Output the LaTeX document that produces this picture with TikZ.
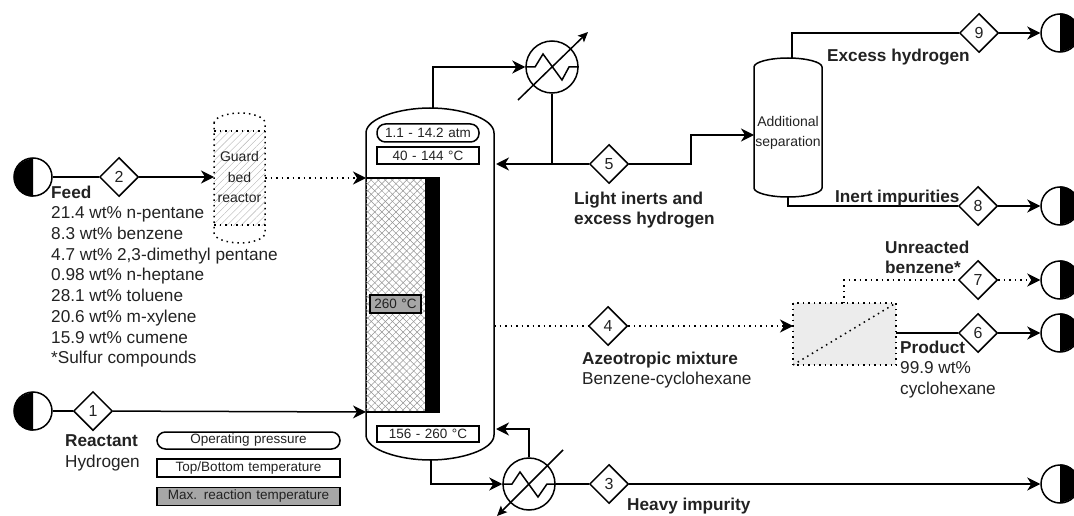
\documentclass[tikz,border=0pt]{standalone}
\usepackage{fontspec}
\setmainfont{Liberation Sans}
\usetikzlibrary{arrows.meta,patterns.meta,shapes.geometric}
\definecolor{inkgray}{HTML}{222222}
\tikzset{
	stream/.style={line width=1.5pt,draw=black},
	arrowed/.style={-{Stealth[length=13pt,width=13pt,inset=4pt]}},
	dottedflow/.style={line width=1.5pt,dash pattern=on 1.5pt off 4pt},
	numbox/.style={diamond,draw,line width=1.5pt,minimum width=39pt,minimum height=39pt,inner sep=0pt,font=\fontsize{16}{18}\selectfont,text=inkgray},
	endpoint/.style={circle,draw,line width=1.5pt,minimum size=38pt,inner sep=0pt},
	lbl/.style={anchor=north west,inner sep=0pt,align=left,text=inkgray,font=\fontsize{17.2}{20.7}\selectfont},
	tag/.style={draw,line width=1.5pt,inner sep=0pt,text=inkgray,font=\fontsize{13.5}{15}\selectfont,text width=#1,align=center},
	small/.style={inner sep=0pt,align=center,text=inkgray,font=\fontsize{14}{20.7}\selectfont}
}
\begin{document}
\begin{tikzpicture}[x=1pt,y=-1pt]
	\useasboundingbox (0,0) rectangle (1074,516);
	\clip (0,0) rectangle (1074,516);
	% diamonds
	\foreach \n/\x/\y in {1/93/411,2/119/177,3/609/484,4/608/326,5/609/164,6/978/333,7/978/280,8/978/206,9/979/33} {
		\node[numbox] (d\n) at (\x,\y) {\n};
	}
	% feeds, black on the left
	\foreach \n/\y in {1/411,2/177} {
		\node[endpoint] (in\n) at (33,\y) {};
		\fill (in\n.south) arc[start angle=270,end angle=90,radius=19pt] -- cycle;
	}
	% products, black on the right
	\foreach \n/\y in {3/484,6/333,7/280,8/206,9/33} {
		\node[endpoint] (out\n) at (1060,\y) {};
		\fill (out\n.north) arc[start angle=90,end angle=-90,radius=19pt] -- cycle;
	}
	% guard bed
	\fill[pattern={Lines[angle=45,distance=5pt,line width=.4pt]},pattern color=gray!60] (214,131) rectangle (265,225);
	\draw[dottedflow] (214,123) .. controls (214,117) and (228,113) .. (240,113) .. controls (252,113) and (265,117) .. (265,123) -- (265,233) .. controls (265,239) and (252,243) .. (240,243) .. controls (228,243) and (214,239) .. (214,233) -- cycle;
	\draw[dottedflow] (214,131) -- (265,131);
	\draw[dottedflow] (214,225) -- (265,225);
	\node[small] (guard) at (239.5,177) {Guard\\bed\\reactor};
	\coordinate (guardin) at (214,177);
	\coordinate (guardout) at (265,178);
	% main column
	\draw[stream] (366,133) .. controls (366,118) and (400,108) .. (430,108) .. controls (460,108) and (494,118) .. (494,133) -- (494,435) .. controls (494,450) and (460,460) .. (430,460) .. controls (400,460) and (366,450) .. (366,435) -- cycle;
	\fill[pattern={Lines[angle=45,distance=5pt,line width=.5pt]},pattern color=gray!85] (366,178) rectangle (425,412);
	\fill[pattern={Lines[angle=-45,distance=5pt,line width=.5pt]},pattern color=gray!85] (366,178) rectangle (425,412);
	\fill (425,178) rectangle (440,412);
	\draw[stream] (366,178) -- (440,178);
	\draw[stream] (366,412) -- (440,412);
	\node[tag=102pt,rounded corners=8.5pt,minimum height=18pt] (ptop) at (428,133) {1.1 - 14.2 atm};
	\node[tag=102pt,minimum height=17pt] (ttop) at (428,155.5) {40 - 144 °C};
	\node[tag=102pt,minimum height=16pt] (tbot) at (428,434) {156 - 260 °C};
	\node[tag=51pt,minimum height=18pt,fill=gray!70] (tmax) at (395.5,304) {260 °C};
	\coordinate (coltop) at (433,108);
	\coordinate (colbot) at (431,460);
	\coordinate (colin2) at (366,178);
	\coordinate (colin1) at (366,412);
	\coordinate (colret) at (496,164);
	\coordinate (colreb) at (496,429);
	\coordinate (colside) at (494,326);
	% condenser
	\node[circle,draw,line width=1.5pt,minimum size=52pt,inner sep=0pt] (cond) at (552,67) {};
	\draw[stream] (cond.west) -- (535,67) -- (543,54) -- (562,80) -- (569,67) -- (cond.east);
	\draw[line width=1.5pt,-{Stealth[length=10pt,width=9pt,inset=2pt]}] (518,100) -- (588,32);
	% reboiler
	\node[circle,draw,line width=1.5pt,minimum size=52pt,inner sep=0pt] (reb) at (529,484) {};
	\draw[stream] (reb.west) -- (512,484) -- (520,472) -- (538,497) -- (547,484) -- (reb.east);
	\draw[line width=1.5pt,-{Stealth[length=10pt,width=9pt,inset=2pt]}] (563,450) -- (497,516);
	% additional separation
	\draw[stream] (754,67) .. controls (754,62) and (770,58) .. (788,58) .. controls (806,58) and (822,62) .. (822,67) -- (822,188) .. controls (822,193) and (806,197) .. (788,197) .. controls (770,197) and (754,193) .. (754,188) -- cycle;
	\node[small] (sep) at (788,133) {Additional\\separation};
	\coordinate (septop) at (792,58);
	\coordinate (sepbot) at (788,197);
	\coordinate (sepin) at (754,135);
	% membrane
	\fill[gray!15] (793,303) rectangle (896,365);
	\draw[dottedflow] (793,303) rectangle (896,365);
	\draw[dottedflow] (793,365) -- (896,303);
	\coordinate (memin) at (793,326);
	\coordinate (memtop) at (844,303);
	\coordinate (memout) at (896,333);
	% streams
	\draw[stream] (in1) -- (d1);
	\draw[stream,arrowed] (d1) -- (colin1);
	\draw[stream] (in2) -- (d2);
	\draw[stream,arrowed] (d2) -- (guardin);
	\draw[dottedflow,arrowed] (guardout) -- (colin2);
	\draw[stream,arrowed] (coltop) |- (cond.west);
	\draw[stream] (cond.south) -- (552,164);
	\draw[stream,arrowed] (d5) -- (colret);
	\draw[stream,arrowed] (colbot) |- (reb.west);
	\draw[stream,arrowed] (reb.north) |- (colreb);
	\draw[stream] (reb.east) -- (d3);
	\draw[stream,arrowed] (d3) -- (out3);
	\draw[stream,arrowed] (d5) -- (691,164) -- (691,135) -- (sepin);
	\draw[stream] (septop) |- (d9);
	\draw[stream,arrowed] (d9) -- (out9);
	\draw[stream] (sepbot) |- (d8);
	\draw[stream,arrowed] (d8) -- (out8);
	\draw[dottedflow] (colside) -- (d4);
	\draw[dottedflow,arrowed] (d4) -- (memin);
	\draw[dottedflow] (memtop) |- (d7);
	\draw[dottedflow,arrowed] (d7) -- (out7);
	\draw[stream] (memout) -- (d6);
	\draw[stream,arrowed] (d6) -- (out6);
	% labels
	\node[lbl] (feed) at (51,185.5) {\textbf{Feed}\\21.4 wt\% n-pentane\\8.3 wt\% benzene\\4.7 wt\% 2,3-dimethyl pentane\\0.98 wt\% n-heptane\\28.1 wt\% toluene\\20.6 wt\% m-xylene\\15.9 wt\% cumene\\*Sulfur compounds};
	\node[lbl] (reactant) at (65,434.5) {\textbf{Reactant}\\Hydrogen};
	\node[lbl] (light) at (574,191.5) {\textbf{Light inerts and}\\\textbf{excess hydrogen}};
	\node[lbl] (azeo) at (582,351.5) {\textbf{Azeotropic mixture}\\Benzene-cyclohexane};
	\node[lbl] (heavy) at (627,497.5) {\textbf{Heavy impurity}};
	\node[lbl] (excess) at (827,48.5) {\textbf{Excess hydrogen}};
	\node[lbl] (inert) at (835,189.5) {\textbf{Inert impurities}};
	\node[lbl] (unreact) at (885,240.5) {\textbf{Unreacted}\\\textbf{benzene*}};
	\node[lbl] (product) at (900,340.5) {\textbf{Product}\\99.9 wt\%\\cyclohexane};
	% legend
	\node[tag=183pt,rounded corners=8.5pt,minimum height=17pt] (legp) at (248.5,440.5) {Operating pressure};
	\node[tag=183pt,minimum height=18pt] (legt) at (248.5,468) {Top/Bottom temperature};
	\node[tag=183pt,minimum height=18pt,fill=gray!70] (legm) at (248.5,496.5) {Max. reaction temperature};
\end{tikzpicture}
\end{document}
